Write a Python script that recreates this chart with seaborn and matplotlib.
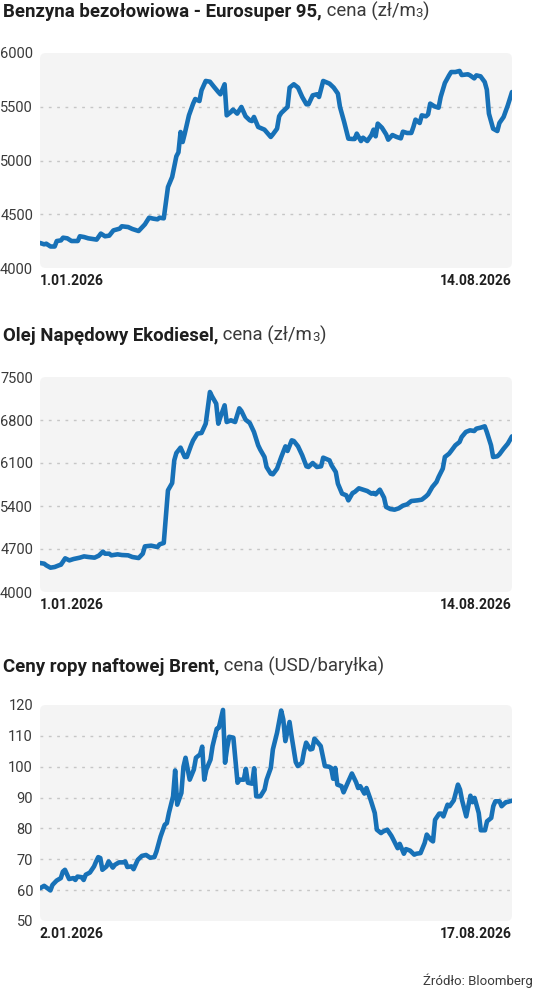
import matplotlib
matplotlib.use('Agg')
import matplotlib.pyplot as plt
from matplotlib.patches import FancyBboxPatch
import pandas as pd
import seaborn as sns

# --- data (day offset from the start date, value) ---
benz_start = '2026-01-01'
benz_days = [0, 2, 3, 5, 7, 8, 10, 11, 13, 15, 18, 19, 21, 23, 27, 29, 31, 33, 35, 38,
             39, 42, 44, 47, 50, 52, 54, 56, 57, 59, 61, 63, 65, 66, 67, 68, 69, 71, 73, 74,
             76, 77, 79, 81, 83, 85, 86, 88, 89, 91, 92, 94, 96, 98, 100, 101, 102, 104, 107, 110,
             111, 113, 114, 115, 118, 119, 121, 123, 125, 127, 128, 130, 132, 133, 135, 138, 140, 142, 143, 145,
             147, 149, 150, 151, 153, 154, 156, 158, 159, 160, 161, 163, 165, 166, 168, 170, 172, 173, 175, 177,
             178, 179, 181, 182, 184, 185, 186, 188, 190, 191, 193, 195, 196, 198, 200, 201, 204, 205, 207, 208,
             210, 212, 213, 214, 216, 218, 219, 221, 223, 225]
benz_values = [4233, 4220, 4226, 4200, 4200, 4251, 4257, 4282, 4276, 4251, 4251, 4295, 4288, 4276, 4264, 4320, 4295, 4301, 4350, 4366,
               4388, 4381, 4363, 4344, 4406, 4468, 4459, 4453, 4468, 4462, 4753, 4847, 5039, 5076, 5265, 5172, 5250, 5420, 5529, 5572,
               5553, 5653, 5740, 5733, 5684, 5637, 5616, 5709, 5420, 5451, 5473, 5436, 5498, 5411, 5374, 5367, 5405, 5312, 5287, 5219,
               5243, 5296, 5411, 5442, 5498, 5678, 5709, 5678, 5591, 5523, 5523, 5606, 5616, 5591, 5740, 5715, 5678, 5622, 5498, 5358,
               5203, 5200, 5200, 5250, 5181, 5212, 5181, 5237, 5287, 5225, 5343, 5305, 5243, 5194, 5237, 5219, 5206, 5268, 5256, 5256,
               5312, 5380, 5349, 5420, 5411, 5429, 5529, 5504, 5491, 5591, 5721, 5792, 5823, 5823, 5833, 5795, 5802, 5792, 5764, 5792,
               5783, 5730, 5659, 5436, 5296, 5274, 5349, 5405, 5513, 5637]

on_start = '2026-01-01'
on_days = [0, 2, 3, 5, 7, 9, 10, 12, 14, 16, 19, 21, 23, 26, 28, 30, 31, 33, 34, 37,
           39, 42, 44, 47, 49, 50, 53, 56, 57, 59, 61, 63, 64, 65, 67, 69, 70, 72, 73, 75,
           77, 79, 81, 82, 84, 85, 86, 88, 89, 91, 93, 95, 96, 98, 100, 102, 104, 105, 107, 108,
           110, 111, 113, 115, 117, 118, 120, 121, 123, 125, 127, 128, 130, 132, 134, 135, 138, 139, 141, 142,
           144, 146, 147, 149, 150, 152, 154, 156, 158, 159, 160, 162, 164, 165, 167, 169, 171, 173, 175, 177,
           180, 182, 184, 185, 187, 189, 190, 192, 193, 195, 196, 198, 200, 201, 203, 205, 207, 208, 210, 212,
           213, 215, 216, 218, 219, 221, 223, 225]
on_values = [4472, 4461, 4434, 4396, 4407, 4434, 4445, 4548, 4515, 4537, 4559, 4580, 4570, 4559, 4591, 4657, 4624, 4624, 4597, 4613,
             4602, 4597, 4570, 4553, 4624, 4743, 4754, 4732, 4776, 4798, 5655, 5774, 6143, 6263, 6350, 6198, 6198, 6388, 6469, 6578,
             6589, 6740, 7256, 7185, 7066, 6740, 6849, 7039, 6767, 6795, 6767, 6990, 6947, 6805, 6751, 6605, 6388, 6317, 6198, 6035,
             5926, 5916, 6008, 6198, 6371, 6296, 6469, 6458, 6371, 6225, 6046, 6035, 6100, 6035, 6046, 6187, 6143, 6062, 5953, 5764,
             5601, 5574, 5492, 5612, 5628, 5688, 5666, 5644, 5601, 5612, 5590, 5666, 5536, 5384, 5351, 5340, 5362, 5406, 5427, 5481,
             5492, 5503, 5557, 5590, 5709, 5791, 5872, 6008, 6198, 6252, 6296, 6388, 6442, 6523, 6605, 6632, 6621, 6659, 6675, 6697,
             6605, 6388, 6198, 6209, 6241, 6333, 6415, 6534]

brent_start = '2026-01-02'
brent_days = [0, 2, 5, 6, 8, 10, 11, 12, 14, 16, 17, 18, 20, 21, 22, 24, 26, 27, 28, 29,
              30, 32, 33, 35, 36, 38, 40, 41, 42, 44, 45, 47, 49, 51, 53, 55, 56, 58, 60, 61,
              62, 64, 65, 66, 68, 69, 70, 72, 74, 75, 77, 78, 79, 80, 82, 83, 85, 86, 88, 89,
              90, 91, 93, 95, 96, 98, 99, 100, 102, 103, 104, 106, 108, 109, 111, 112, 114, 116, 117, 118,
              120, 121, 123, 124, 126, 127, 128, 130, 131, 132, 134, 135, 137, 139, 140, 141, 142, 143, 145, 146,
              148, 150, 152, 153, 154, 156, 157, 159, 161, 162, 164, 165, 167, 169, 170, 172, 173, 175, 176, 178,
              180, 181, 183, 185, 186, 188, 189, 190, 192, 193, 194, 196, 197, 199, 201, 202, 203, 205, 207, 208,
              209, 211, 212, 214, 215, 217, 218, 219, 221, 222, 224, 225, 227]
brent_values = [60.6, 61.4, 59.9, 61.7, 63.1, 63.9, 66.0, 66.6, 63.6, 63.9, 63.3, 64.4, 64.2, 63.3, 65.0, 65.7, 67.7, 69.3, 70.7, 70.4,
                66.6, 67.7, 69.3, 67.3, 68.2, 69.0, 69.0, 69.3, 67.5, 67.7, 66.8, 69.8, 71.1, 71.4, 70.5, 70.7, 72.5, 77.4, 81.2, 81.7,
                85.0, 90.4, 98.8, 87.7, 91.5, 100.0, 102.9, 95.8, 99.1, 102.9, 104.0, 106.5, 95.8, 99.1, 102.3, 106.7, 112.3, 112.6, 118.4, 101.3,
                106.1, 109.7, 109.4, 94.8, 95.8, 95.8, 99.3, 94.8, 94.5, 99.5, 90.4, 90.4, 92.6, 95.8, 99.6, 105.6, 111.0, 118.2, 115.3, 108.3,
                114.5, 109.9, 101.5, 100.2, 101.3, 105.0, 107.8, 105.6, 105.8, 109.1, 107.5, 106.7, 100.2, 100.0, 99.6, 96.1, 99.6, 94.2, 93.7, 91.7,
                94.8, 97.8, 95.0, 93.1, 93.7, 91.3, 93.1, 89.3, 85.0, 79.6, 78.5, 79.0, 79.6, 77.6, 76.3, 73.6, 75.0, 71.8, 73.3, 72.8,
                71.5, 71.8, 72.0, 75.3, 78.0, 76.3, 75.8, 82.8, 84.8, 84.8, 83.9, 87.7, 87.2, 89.1, 94.2, 92.6, 89.1, 83.9, 90.6, 88.5,
                89.9, 85.0, 79.4, 79.4, 82.3, 83.4, 87.2, 88.8, 88.8, 87.2, 88.5, 88.6, 89.0]

benz_ticks = [4000, 4500, 5000, 5500, 6000]
on_ticks = [4000, 4700, 5400, 6100, 6800, 7500]
brent_ticks = [50, 60, 70, 80, 90, 100, 110, 120]

titles = [
    ('Benzyna bezołowiowa - Eurosuper 95,', ' cena (zł/m', '3', ')'),
    ('Olej Napędowy Ekodiesel,', ' cena (zł/m', '3', ')'),
    ('Ceny ropy naftowej Brent,', ' cena (USD/baryłka)', '', ''),
]
source = 'Źródło: Bloomberg'

BLUE = '#1771b7'
W, H = 536, 992

sns.set_theme(style='white')
plt.rcParams['font.family'] = ['Roboto', 'DejaVu Sans']

fig = plt.figure(figsize=(W / 100, H / 100), dpi=100)
fig.patch.set_facecolor('white')


def fmt_date(d):
    return f'{d.day}.{d.month:02d}.{d.year}'


def draw_panel(top, bottom, start, days, values, ticks):
    ax = fig.add_axes([40 / W, 1 - bottom / H, 472 / W, (bottom - top) / H])
    dates = pd.Timestamp(start) + pd.to_timedelta(days, unit='D')
    df = pd.DataFrame({'data': dates, 'cena': values})

    ax.patch.set_visible(False)
    bg = FancyBboxPatch((0, 0), 1, 1, boxstyle='round,pad=0,rounding_size=0.012',
                        transform=ax.transAxes, mutation_aspect=472 / (bottom - top),
                        fc='#f4f4f4', ec='none', zorder=0, clip_on=False)
    ax.add_patch(bg)
    for v in ticks[1:-1]:
        ax.axhline(v, color='#c6c6c6', lw=1, ls=(0, (2, 4)), zorder=1)

    sns.lineplot(data=df, x='data', y='cena', ax=ax, color=BLUE, lw=3.3,
                 solid_capstyle='round', solid_joinstyle='round', zorder=3)

    ax.set_xlim(dates[0], dates[-1])
    ax.set_ylim(ticks[0], ticks[-1])
    ax.set_yticks(ticks)
    ax.set_yticklabels([str(t) for t in ticks])
    ax.set_xticks([dates[0], dates[-1]])
    ax.set_xticklabels([fmt_date(dates[0]), fmt_date(dates[-1])], fontweight='semibold')
    labels = ax.get_xticklabels()
    labels[0].set_horizontalalignment('left')
    labels[1].set_horizontalalignment('right')
    ax.tick_params(axis='y', length=0, pad=5, labelsize=10.5, labelcolor='#3a3a3a')
    ax.tick_params(axis='x', length=0, pad=4, labelsize=10, labelcolor='#1e1e1e')
    ax.set_xlabel('')
    ax.set_ylabel('')
    for s in ax.spines.values():
        s.set_visible(False)
    return ax


draw_panel(53, 268, benz_start, benz_days, benz_values, benz_ticks)
draw_panel(377, 592, on_start, on_days, on_values, on_ticks)
draw_panel(705, 921, brent_start, brent_days, brent_values, brent_ticks)

renderer = fig.canvas.get_renderer()
for (bold, light, small, tail), base in zip(titles, [17, 341, 672]):
    y = 1 - base / H
    t = fig.text(3 / W, y, bold, fontsize=13.4, fontweight='bold', color='#1e1e1e', va='baseline')
    x = t.get_window_extent(renderer).x1 / W
    t = fig.text(x, y, light, fontsize=13.4, color='#3a3a3a', va='baseline')
    if small:
        x = t.get_window_extent(renderer).x1 / W
        t = fig.text(x, y, small, fontsize=9.5, color='#3a3a3a', va='baseline')
        x = t.get_window_extent(renderer).x1 / W
        fig.text(x, y, tail, fontsize=13.4, color='#3a3a3a', va='baseline')

fig.text(533 / W, 1 - 985 / H, source, fontsize=9.5, color='#3a3a3a',
         ha='right', va='baseline')

fig.savefig('out.png', dpi=100)
